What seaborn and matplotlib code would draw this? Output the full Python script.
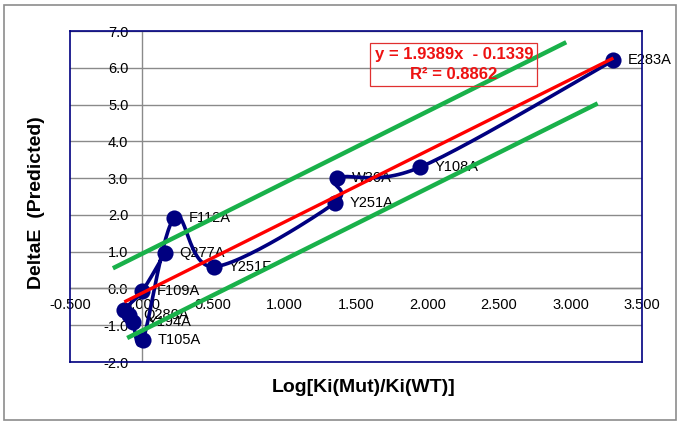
import numpy as np
import pandas as pd
import matplotlib
matplotlib.use("Agg")
import matplotlib.pyplot as plt
from matplotlib.patches import Rectangle
import seaborn as sns

# ---- data ----
mutants = ["E283A", "Y108A", "W30A", "Y251A", "Y251F", "F112A",
           "T105A", "Y194A", "Q280A", "", "F109A", "Q277A"]
log_ki = [3.30, 1.95, 1.37, 1.35, 0.51, 0.23,
          0.01, -0.06, -0.09, -0.12, 0.005, 0.165]
delta_e = [6.20, 3.30, 3.00, 2.32, 0.59, 1.92,
           -1.40, -0.92, -0.72, -0.58, -0.07, 0.97]

fit_slope = 1.9389
fit_intercept = -0.1339
fit_r2 = 0.8862
upper_offset = 1.07
lower_offset = -1.02
upper_x = [-0.20, 2.97]
lower_x = [-0.10, 3.19]

x_ticks = [-0.5, 0.0, 0.5, 1.0, 1.5, 2.0, 2.5, 3.0, 3.5]
x_tick_labels = ["-0.500", "0.000", "0.500", "1.000", "1.500",
                 "2.000", "2.500", "3.000", "3.500"]
y_ticks = [-2, -1, 0, 1, 2, 3, 4, 5, 6, 7]
y_tick_labels = ["-2.0", "-1.0", "0.0", "1.0", "2.0", "3.0",
                 "4.0", "5.0", "6.0", "7.0"]

df = pd.DataFrame({"mutant": mutants, "x": log_ki, "y": delta_e})

# ---- smoothed connecting line (Excel style cardinal spline) ----
def smooth(xs, ys, n=30):
    P = np.column_stack([xs, ys]).astype(float)
    m = len(P)
    out = []
    for i in range(m - 1):
        p0 = P[max(i - 1, 0)]
        p1 = P[i]
        p2 = P[i + 1]
        p3 = P[min(i + 2, m - 1)]
        c1 = p1 + (p2 - p0) / 6.0
        c2 = p2 - (p3 - p1) / 6.0
        t = np.linspace(0, 1, n)[:, None]
        seg = ((1 - t) ** 3) * p1 + 3 * ((1 - t) ** 2) * t * c1 \
            + 3 * (1 - t) * t ** 2 * c2 + t ** 3 * p2
        out.append(seg if i == 0 else seg[1:])
    out = np.vstack(out)
    return out[:, 0], out[:, 1]

sx, sy = smooth(df["x"].values, df["y"].values)
curve = pd.DataFrame({"x": sx, "y": sy, "k": np.arange(len(sx))})

sns.set_theme(style="white")
plt.rcParams["font.family"] = ["Liberation Sans", "DejaVu Sans"]

navy = "#000080"
fig = plt.figure(figsize=(6.8, 4.23), dpi=100)
fig.patch.set_facecolor("white")
fig.patches.append(Rectangle((4 / 680, 3 / 423), 672 / 680, 415 / 423,
                             transform=fig.transFigure, fill=False,
                             edgecolor="#8c8c8c", linewidth=1.2))
ax = fig.add_axes([70 / 680, 61 / 423, 572 / 680, 331 / 423])
ax.set_axisbelow(True)

ax.set_xlim(-0.5, 3.5)
ax.set_ylim(-2, 7)
ax.set_xticks(x_ticks)
ax.set_xticklabels(x_tick_labels, fontsize=10.5, color="black")
ax.set_yticks(y_ticks)
ax.set_yticklabels(y_tick_labels, fontsize=10.5, color="black")
ax.tick_params(axis="x", length=0, pad=-46)
ax.tick_params(axis="y", length=0, pad=-42)
ax.yaxis.grid(True, color="#8a8a8a", linewidth=1.0)
ax.xaxis.grid(False)
ax.axvline(0, color="#8a8a8a", linewidth=1.0, zorder=0.6)
ax.axhline(0, color="#8a8a8a", linewidth=1.0, zorder=0.6)
for s in ax.spines.values():
    s.set_color(navy)
    s.set_linewidth(1.2)

# point labels (under the line, as in the original)
for _, r in df.iterrows():
    if r["mutant"]:
        ax.annotate(r["mutant"], (r["x"], r["y"]), xytext=(10.5, 0),
                    textcoords="offset points", ha="left", va="center",
                    fontsize=10.5, color="black", zorder=1.5)

sns.lineplot(data=curve, x="x", y="y", sort=False, estimator=None,
             color=navy, linewidth=2.6, ax=ax, zorder=2)
sns.scatterplot(data=df, x="x", y="y", s=135, color=navy, edgecolor=navy,
                linewidth=0, ax=ax, zorder=2.6, clip_on=False)

# trendline and band lines
fx = np.array([min(log_ki), max(log_ki)])
ax.plot(fx, fit_slope * fx + fit_intercept, color="#ff0000", linewidth=2.4,
        zorder=3, solid_capstyle="butt")
ux = np.array(upper_x)
lx = np.array(lower_x)
ax.plot(ux, fit_slope * ux + fit_intercept + upper_offset, color="#19b14a",
        linewidth=3.2, zorder=3, solid_capstyle="butt")
ax.plot(lx, fit_slope * lx + fit_intercept + lower_offset, color="#19b14a",
        linewidth=3.2, zorder=3, solid_capstyle="butt")

ax.text(0.671, 0.899,
        f"y = {fit_slope:.4f}x  - {abs(fit_intercept):.4f}\nR\u00b2 = {fit_r2:.4f}",
        transform=ax.transAxes, ha="center", va="center", multialignment="center",
        fontsize=12, fontweight="bold", color="#ee1111", linespacing=1.35,
        zorder=4,
        bbox=dict(boxstyle="square,pad=0.25", facecolor="none",
                  edgecolor="#e03030", linewidth=0.9))

ax.set_xlabel("Log[Ki(Mut)/Ki(WT)]", fontsize=14, fontweight="bold",
              color="black", va="center")
ax.set_ylabel("DeltaE  (Predicted)", fontsize=14, fontweight="bold",
              color="black", va="center")
ax.xaxis.set_label_coords(0.514, -0.0785)
ax.yaxis.set_label_coords(-0.058, 0.48)

fig.savefig("out.png", dpi=100)
